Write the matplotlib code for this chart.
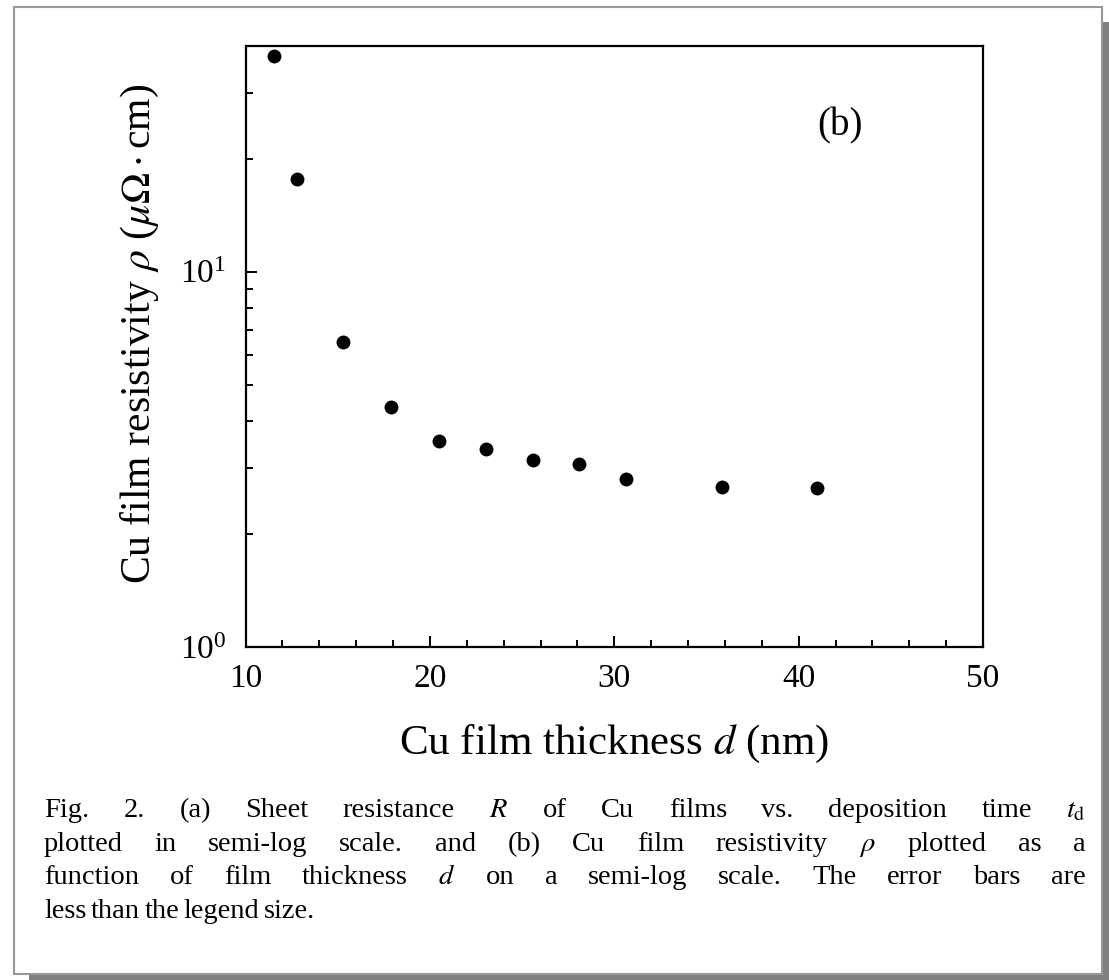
import matplotlib
matplotlib.use('Agg')
import matplotlib.pyplot as plt
from matplotlib.patches import Rectangle
from matplotlib.ticker import LogLocator, MultipleLocator, LogFormatterSciNotation, NullFormatter

# data
thickness = [11.56, 12.81, 15.29, 17.89, 20.49, 23.04, 25.59, 28.08, 30.63, 35.84, 40.99]
resistivity = [37.5, 17.7, 6.5, 4.37, 3.54, 3.37, 3.15, 3.08, 2.80, 2.67, 2.65]

caption_lines = [
    r"Fig. 2. (a) Sheet resistance $R$ of Cu films vs. deposition time $t_\mathrm{d}$",
    r"plotted in semi-log scale. and (b) Cu film resistivity $\rho$ plotted as a",
    r"function of film thickness $d$ on a semi-log scale. The error bars are",
    r"less than the legend size.",
]

plt.rcParams['font.family'] = ['Liberation Serif', 'DejaVu Serif']
plt.rcParams['mathtext.fontset'] = 'stix'

W, H = 1109, 980
fig = plt.figure(figsize=(W / 100, H / 100), dpi=100)

# page frame with drop shadow
fig.patches.append(Rectangle((29 / W, 0), 1 - 29 / W, 1 - 22 / H, transform=fig.transFigure,
                             facecolor='#808080', edgecolor='none', zorder=-10))
fig.patches.append(Rectangle((14 / W, 1 - 974 / H), (1102 - 14) / W, (974 - 7) / H,
                             transform=fig.transFigure, facecolor='white',
                             edgecolor='#999999', linewidth=1.5, zorder=-9))

ax = fig.add_axes([245.5 / W, 1 - 647 / H, 737.5 / W, (647 - 45.7) / H])
ax.set_yscale('log')
ax.plot(thickness, resistivity, 'o', color='black', markersize=10, markeredgewidth=0)

ax.set_xlim(10, 50)
ax.set_ylim(1, 40)
ax.xaxis.set_major_locator(MultipleLocator(10))
ax.xaxis.set_minor_locator(MultipleLocator(2))
ax.yaxis.set_major_locator(LogLocator(base=10))
ax.yaxis.set_minor_locator(LogLocator(base=10, subs=range(2, 10)))
ax.yaxis.set_major_formatter(LogFormatterSciNotation())
ax.yaxis.set_minor_formatter(NullFormatter())

for s in ax.spines.values():
    s.set_linewidth(1.6)
ax.tick_params(which='both', direction='in', top=False, right=False, labelsize=24, width=1.4)
ax.tick_params(which='major', length=8)
ax.tick_params(axis='x', which='major', pad=12)
ax.tick_params(axis='y', which='major', pad=14)
ax.tick_params(which='minor', length=5)

ax.set_xlabel(r"Cu film thickness $d$ (nm)", fontsize=31, labelpad=21)
ax.set_ylabel(r"Cu film resistivity $\rho$ ($\mu\Omega\cdot$cm)", fontsize=30)
ax.yaxis.set_label_coords(-0.115, 0.52)
ax.text(0.775, 0.85, "(b)", transform=ax.transAxes, fontsize=28)

# justified caption
fig.canvas.draw()
renderer = fig.canvas.get_renderer()
x_left, x_right = 44, 1086
baselines = [817, 851, 884, 918]
for i, line in enumerate(caption_lines):
    words = line.split(' ')
    # keep math tokens together
    merged = []
    for w in words:
        if merged and merged[-1].count('$') % 2 == 1:
            merged[-1] += ' ' + w
        else:
            merged.append(w)
    texts = [fig.text(0, 1 - baselines[i] / H, w, fontsize=20.5, va='baseline', ha='left')
             for w in merged]
    widths = [t.get_window_extent(renderer).width for t in texts]
    if i < len(caption_lines) - 1:
        gap = (x_right - x_left - sum(widths)) / (len(texts) - 1)
    else:
        gap = 4.5
    x = x_left
    for t, w in zip(texts, widths):
        t.set_x(x / W)
        x += w + gap

fig.savefig('out.png', dpi=100)
